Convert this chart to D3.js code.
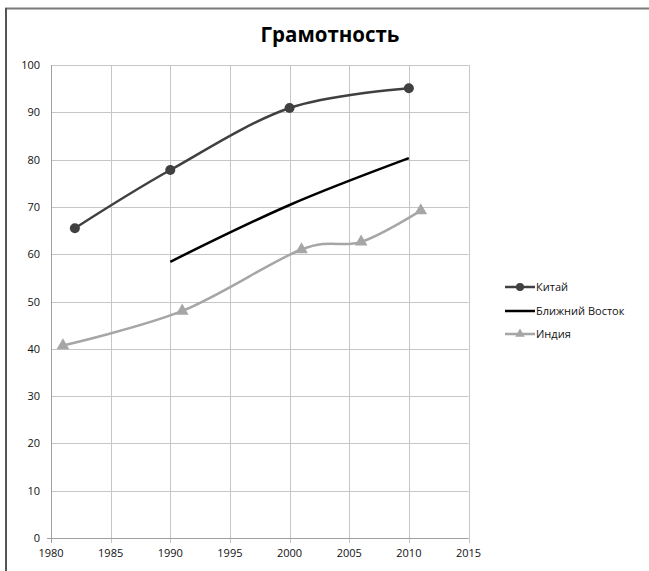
<!DOCTYPE html>
<html><head><meta charset="utf-8">
<script src="https://cdn.jsdelivr.net/npm/d3@7"></script>
<style>body{margin:0;background:#fff;} svg{display:block;}</style>
</head><body>
<script>
const title = "Грамотность";
const xTicks = [1980,1985,1990,1995,2000,2005,2010,2015];
const yTicks = [0,10,20,30,40,50,60,70,80,90,100];
const chinaYears = [1982,1990,2000,2010];
const chinaValues = [65.5,77.8,90.9,95.1];
const neYears = [1990,2000,2010];
const neValues = [58.4,70.4,80.3];
const indiaYears = [1981,1991,2001,2006,2011];
const indiaValues = [40.7,48.0,61.0,62.6,69.2];
const seriesNames = ["Китай","Ближний Восток","Индия"];

const W=649,H=571;
const svg=d3.select("body").append("svg").attr("width",W).attr("height",H);
svg.append("line").attr("x1",5).attr("x2",W).attr("y1",8.5).attr("y2",8.5).attr("stroke","#7a7a7a").attr("stroke-width",2);
svg.append("line").attr("x1",6).attr("x2",6).attr("y1",8).attr("y2",H).attr("stroke","#555").attr("stroke-width",2);

const x=d3.scaleLinear().domain([1980,2015]).range([51,468.5]);
const y=d3.scaleLinear().domain([0,100]).range([538,65]);
const font="'Open Sans', 'Liberation Sans', sans-serif";

svg.append("text").attr("x",330).attr("y",42).attr("text-anchor","middle")
  .attr("font-family",font).attr("font-weight","bold").attr("font-size",20.5).attr("fill","#000").text(title);

const g=svg.append("g");
g.selectAll(".hg").data(yTicks).join("line").attr("x1",x(1980)).attr("x2",x(2015))
  .attr("y1",d=>Math.round(y(d))+0.5).attr("y2",d=>Math.round(y(d))+0.5).attr("stroke","#c6c6c6").attr("stroke-width",1);
g.selectAll(".vg").data(xTicks).join("line").attr("y1",y(100)).attr("y2",y(0)+5)
  .attr("x1",d=>Math.round(x(d))+0.5).attr("x2",d=>Math.round(x(d))+0.5).attr("stroke","#c6c6c6").attr("stroke-width",1);
g.append("line").attr("x1",x(1980)-4).attr("x2",x(2015)).attr("y1",Math.round(y(0))+0.5).attr("y2",Math.round(y(0))+0.5).attr("stroke","#a0a0a0");
g.append("line").attr("x1",Math.round(x(1980))+0.5).attr("x2",Math.round(x(1980))+0.5).attr("y1",y(100)).attr("y2",y(0)+5).attr("stroke","#a0a0a0");

g.selectAll(".yl").data(yTicks).join("text").attr("x",40).attr("y",d=>y(d)+4)
  .attr("text-anchor","end").attr("font-family",font).attr("font-size",11).attr("fill","#111").text(d=>d);
g.selectAll(".xl").data(xTicks).join("text").attr("x",d=>x(d)).attr("y",557)
  .attr("text-anchor","middle").attr("font-family",font).attr("font-size",11).attr("fill","#111").text(d=>d);

const line=d3.line().x(d=>x(d[0])).y(d=>y(d[1])).curve(d3.curveCardinal.tension(0));
const china=chinaYears.map((d,i)=>[d,chinaValues[i]]);
const ne=neYears.map((d,i)=>[d,neValues[i]]);
const india=indiaYears.map((d,i)=>[d,indiaValues[i]]);

g.append("path").datum(india).attr("d",line).attr("fill","none").attr("stroke","#a6a6a6").attr("stroke-width",2.5);
g.append("path").datum(ne).attr("d",line).attr("fill","none").attr("stroke","#000").attr("stroke-width",2.5);
g.append("path").datum(china).attr("d",line).attr("fill","none").attr("stroke","#404040").attr("stroke-width",2.5);

const tri=d3.symbol().type(d3.symbolTriangle).size(70);
g.selectAll(".im").data(india).join("path").attr("d",tri)
  .attr("transform",d=>`translate(${x(d[0])},${y(d[1])})`).attr("fill","#a6a6a6");
g.selectAll(".cm").data(china).join("circle").attr("cx",d=>x(d[0])).attr("cy",d=>y(d[1])).attr("r",5).attr("fill","#404040");

// legend
const leg=svg.append("g");
const ly=[287,311,334];
const lcol=["#404040","#000","#a6a6a6"];
seriesNames.forEach((n,i)=>{
  leg.append("line").attr("x1",505).attr("x2",535).attr("y1",ly[i]).attr("y2",ly[i]).attr("stroke",lcol[i]).attr("stroke-width",2.5);
  if(i===0) leg.append("circle").attr("cx",520).attr("cy",ly[i]).attr("r",4).attr("fill",lcol[i]);
  if(i===2) leg.append("path").attr("d",d3.symbol().type(d3.symbolTriangle).size(40)()).attr("transform",`translate(520,${ly[i]})`).attr("fill",lcol[i]);
  leg.append("text").attr("x",536).attr("y",ly[i]+4).attr("font-family",font).attr("font-size",11).attr("fill","#111").text(n);
});
</script>
</body></html>
